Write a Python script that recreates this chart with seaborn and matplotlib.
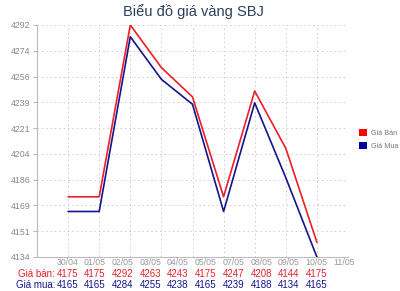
import numpy as np
import pandas as pd
import matplotlib
matplotlib.use("Agg")
import matplotlib.pyplot as plt
from matplotlib.patches import Patch
import seaborn as sns

dates = ["30/04", "01/05", "02/05", "03/05", "04/05", "05/05", "07/05", "08/05", "09/05", "10/05", "11/05"]
gia_ban = [4175, 4175, 4292, 4263, 4243, 4175, 4247, 4208, 4144, 4175]
gia_mua = [4165, 4165, 4284, 4255, 4238, 4165, 4239, 4188, 4134, 4165]
n_plot = 9  # points drawn as lines in the chart

RED = "#e8202a"
BLUE = "#14148c"

sns.set_style("white")
plt.rcParams['font.family'] = ['Liberation Sans', 'DejaVu Sans']

df = pd.DataFrame({
    "idx": list(range(n_plot)) * 2,
    "value": gia_ban[:n_plot] + gia_mua[:n_plot],
    "series": ["Giá Bán"] * n_plot + ["Giá Mua"] * n_plot,
})

fig = plt.figure(figsize=(4.0, 2.91), dpi=100)
ax = fig.add_axes([37/400, 1-257/291, (348-37)/400, (257-25)/291])

sns.lineplot(data=df, x="idx", y="value", hue="series",
             palette={"Giá Bán": RED, "Giá Mua": BLUE},
             linewidth=1.2, ax=ax, legend=False)

ax.set_xlim(-1, 9)
ymin, ymax = 4134, 4292
ax.set_ylim(ymin, ymax)
yt = np.linspace(ymin, ymax, 10)
ax.set_yticks(yt)
ax.set_yticklabels([str(int(v)) for v in yt], fontsize=6.3, color="#888888")

# x labels (evenly spread, independent of the grid) and grid at integer positions
xt = np.linspace(-0.03, 8.88, len(dates))
ax.set_xticks(xt)
ax.set_xticklabels(dates, fontsize=6.3, color="#999999")
ax.set_xticks(np.arange(0, 10), minor=True)
ax.tick_params(axis="x", which="both", length=0, pad=1)
ax.tick_params(axis="y", which="major", length=3, width=0.6, color="#aaaaaa", pad=1.5, left=True)
ax.grid(False)
ax.grid(True, which="minor", axis="x", color="#cccccc", linestyle=(0, (1.5, 3)), linewidth=0.7)
ax.grid(True, which="major", axis="y", color="#cccccc", linestyle=(0, (1.5, 3)), linewidth=0.7)

ax.set_xlabel("")
ax.set_ylabel("")
for s in ["top", "right"]:
    ax.spines[s].set_visible(False)
for s in ["left", "bottom"]:
    ax.spines[s].set_color("#bbbbbb")
    ax.spines[s].set_linewidth(0.8)

fig.text(193/400, 1-12/291, "Biểu đồ giá vàng SBJ", ha="center", va="center",
         fontsize=10.5, color="#2b3f5c")

# table rows under the chart
trans = matplotlib.transforms.blended_transform_factory(ax.transData, fig.transFigure)
y1 = 1 - 274/291
y2 = 1 - 285/291
fig.text(55/400, y1, "Giá bán:", ha="right", va="center", fontsize=7, color=RED)
fig.text(55/400, y2, "Giá mua:", ha="right", va="center", fontsize=7, color=BLUE)
for i, (b, m) in enumerate(zip(gia_ban, gia_mua)):
    ax.text(xt[i], y1, str(b), transform=trans, ha="center", va="center",
            fontsize=7, color=RED, clip_on=False)
    ax.text(xt[i], y2, str(m), transform=trans, ha="center", va="center",
            fontsize=7, color=BLUE, clip_on=False)

handles = [Patch(facecolor="#ff0000", edgecolor="none", label="Giá Bán"),
           Patch(facecolor="#00009a", edgecolor="none", label="Giá Mua")]
fig.legend(handles=handles, loc="center left", bbox_to_anchor=(355/400, 1-139.5/291),
           frameon=False, fontsize=5.2, labelcolor="#777777", borderpad=0,
           handlelength=1.1, handleheight=1.1, handletextpad=0.55, labelspacing=0.6)

fig.savefig("out.png", dpi=100)
